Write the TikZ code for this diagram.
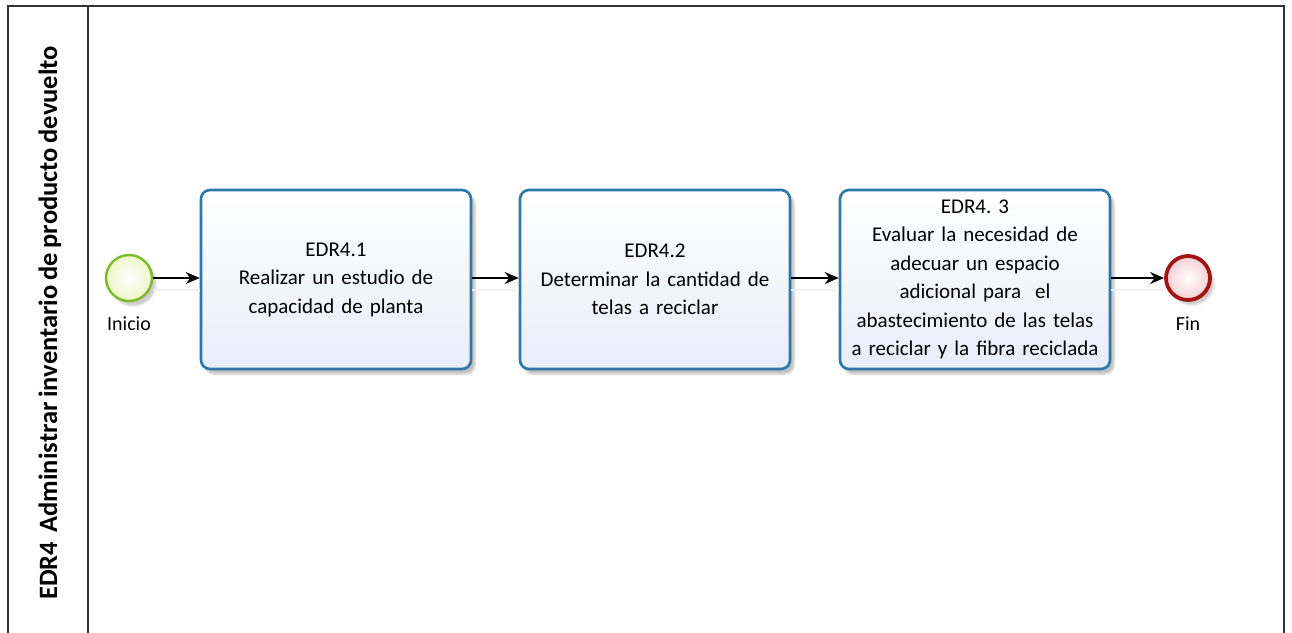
\documentclass[tikz,border=0pt]{standalone}
\usepackage{fontspec}
\setmainfont[WordSpace=0.8]{Carlito}
\frenchspacing
\usetikzlibrary{arrows.meta,shadows.blur}
\definecolor{taskborder}{HTML}{2D78A8}
\definecolor{taskfill}{HTML}{E9EDF9}
\definecolor{startline}{HTML}{7CBB2A}
\definecolor{startfill}{HTML}{EEF7C8}
\definecolor{endline}{HTML}{A31515}
\definecolor{endfill}{HTML}{F4D0D4}
\tikzset{
  task/.style={draw=taskborder, line width=2.6pt, rounded corners=9pt,
    top color=white, bottom color=taskfill,
    minimum width=270pt, minimum height=179pt, align=center,
    font=\fontsize{21}{28.5}\selectfont, text width=262pt,
    blur shadow={shadow xshift=4pt, shadow yshift=-5pt, shadow blur steps=8, shadow opacity=25}},
  startev/.style={circle, draw=startline, line width=2.4pt, minimum size=46pt,
    inner color=white, outer color=startfill,
    blur shadow={shadow xshift=4pt, shadow yshift=-5pt, shadow opacity=20}},
  endev/.style={circle, draw=endline, line width=3.8pt, minimum size=44pt,
    inner color=white, outer color=endfill,
    blur shadow={shadow xshift=4pt, shadow yshift=-5pt, shadow opacity=20}},
  flow/.style={-{Stealth[length=14pt,width=12pt]}, line width=1.3pt, black,
    preaction={draw=black!6, line width=2pt, -, transform canvas={yshift=-12pt}}},
  evlabel/.style={font=\fontsize{20}{22}\selectfont},
}
\begin{document}
\begin{tikzpicture}[x=1pt,y=-1pt]
  \useasboundingbox (0,0) rectangle (1292,632);
  % pool frame (open at the bottom)
  \draw[line width=1.6pt, black!80] (8,640) -- (8,6) -- (1284,6) -- (1284,640);
  \draw[line width=1.6pt, black!80] (88,6) -- (88,640);
  \node[rotate=90, font=\bfseries\fontsize{26.5}{30}\selectfont] (lane) at (50,323)
    {EDR4\ \ Administrar inventario de producto devuelto};
  % events and tasks
  \node[startev] (inicio) at (129,278) {};
  \node[task] (t1) at (336,279.5) {EDR4.1\\Realizar un estudio de\\capacidad de planta};
  \node[task] (t2) at (655,279.5) {EDR4.2\\Determinar la cantidad de\\telas a reciclar};
  \node[task] (t3) at (975,279.5) {EDR4. 3\\Evaluar la necesidad de\\adecuar un espacio\\adicional para\ \ el\\abastecimiento de las telas\\a reciclar y la fibra reciclada};
  \node[endev] (fin) at (1188,278) {};
  \node[evlabel, below=11pt] (inicioL) at (inicio.south) {Inicio};
  \node[evlabel, below=11pt] (finL) at (fin.south) {Fin};
  % sequence flows
  \draw[flow] (inicio.east) -- (t1.west |- inicio.east);
  \draw[flow] (t1.east |- inicio.east) -- (t2.west |- inicio.east);
  \draw[flow] (t2.east |- inicio.east) -- (t3.west |- inicio.east);
  \draw[flow] (t3.east |- fin.west) -- (fin.west);
\end{tikzpicture}
\end{document}
